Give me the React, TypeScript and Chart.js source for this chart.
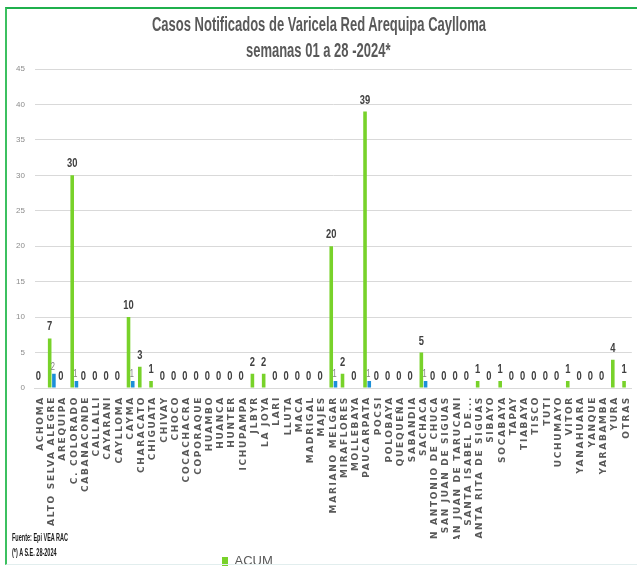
import React, { useEffect, useRef } from "react";
import { Chart, registerables } from "chart.js";

Chart.register(...registerables);

const categories: string[] = [
  "ACHOMA", "ALTO SELVA ALEGRE", "AREQUIPA", "C. COLORADO", "CABANACONDE", "CALLALLI",
  "CAYARANI", "CAYLLOMA", "CAYMA", "CHARACATO", "CHIGUATA", "CHIVAY", "CHOCO",
  "COCACHACRA", "COPORAQUE", "HUAMBO", "HUANCA", "HUNTER", "ICHUPAMPA", "JLBYR",
  "LA JOYA", "LARI", "LLUTA", "MACA", "MADRIGAL", "MAJES", "MARIANO MELGAR",
  "MIRAFLORES", "MOLLEBAYA", "PAUCARPATA", "POCSI", "POLOBAYA", "QUEQUEÑA",
  "SABANDIA", "SACHACA", "SAN ANTONIO DE CHUCA", "SAN JUAN DE SIGUAS",
  "SAN JUAN DE TARUCANI", "SANTA ISABEL DE...", "SANTA RITA DE SIGUAS", "SIBAYO",
  "SOCABAYA", "TAPAY", "TIABAYA", "TISCO", "TUTI", "UCHUMAYO", "VITOR", "YANAHUARA",
  "YANQUE", "YARABAMBA", "YURA", "OTRAS",
];

const acumValues: number[] = [
  0, 7, 0, 30, 0, 0, 0, 0, 10, 3, 1, 0, 0, 0, 0, 0, 0, 0, 0, 2, 2, 0, 0, 0, 0, 0, 20,
  2, 0, 39, 0, 0, 0, 0, 5, 0, 0, 0, 0, 1, 0, 1, 0, 0, 0, 0, 0, 1, 0, 0, 0, 4, 1,
];

const semanaValues: (number | null)[] = [
  null, 2, null, 1, null, null, null, null, 1, null, null, null, null, null, null, null,
  null, null, null, null, null, null, null, null, null, null, 1, null, null, 1, null,
  null, null, null, 1, null, null, null, null, null, null, null, null, null, null, null,
  null, null, null, null, null, null, null,
];

const yTicks: number[] = [0, 5, 10, 15, 20, 25, 30, 35, 40, 45];

const titleLines: string[] = [
  "Casos Notificados de Varicela Red Arequipa Caylloma",
  "semanas 01 a 28 -2024*",
];

const footnoteLines: string[] = ["Fuente: Epi VEA RAC", "(*) A S.E. 28-2024"];

const SANS = "'Liberation Sans', Arial, sans-serif";

const valueLabels = {
  id: "valueLabels",
  afterDatasetsDraw(chart: any) {
    const ctx = chart.ctx;
    chart.data.datasets.forEach((ds: any, di: number) => {
      const meta = chart.getDatasetMeta(di);
      if (meta.hidden) return;
      meta.data.forEach((el: any, i: number) => {
        const v = ds.data[i];
        if (v === null || v === undefined) return;
        ctx.save();
        ctx.textAlign = "center";
        ctx.textBaseline = "bottom";
        if (di === 0) {
          ctx.translate(el.x, el.y - 5);
          ctx.scale(0.72, 1);
          ctx.font = `bold 13px ${SANS}`;
          ctx.fillStyle = "#404040";
          ctx.fillText(String(v), 0, 0);
        } else {
          ctx.translate(el.x - 1, el.y - 2);
          ctx.scale(0.75, 1);
          ctx.font = `10px ${SANS}`;
          ctx.fillStyle = "#7f7f7f";
          ctx.fillText(String(v), 0, 0);
        }
        ctx.restore();
      });
    });
  },
};

const spacedXLabels = {
  id: "spacedXLabels",
  afterLayout(chart: any) {
    const sx = chart.scales.x;
    if (!sx || sx.__spaced) return;
    const orig = sx.drawLabels.bind(sx);
    sx.drawLabels = (area: any) => {
      const ctx = chart.ctx;
      ctx.save();
      (ctx as any).letterSpacing = "1.7px";
      orig(area);
      ctx.restore();
    };
    sx.__spaced = true;
  },
};

const legendShift = {
  id: "legendShift",
  afterLayout(chart: any) {
    const lg = chart.legend;
    if (!lg) return;
    const w = lg.right - lg.left;
    lg.left = 218;
    lg.right = 218 + w;
    lg.top += 12;
    lg.bottom += 12;
  },
};

export default function App() {
  const ref = useRef<HTMLCanvasElement | null>(null);

  useEffect(() => {
    if (!ref.current) return;
    const chart = new Chart(ref.current, {
      type: "bar",
      data: {
        labels: categories,
        datasets: [
          {
            label: "ACUM",
            data: acumValues,
            backgroundColor: "#78d22a",
            borderWidth: 0,
            barPercentage: 0.85,
            categoryPercentage: 0.75,
          },
          {
            label: "SE 28",
            data: semanaValues as any,
            backgroundColor: "#1c8fd8",
            borderWidth: 0,
            barPercentage: 0.85,
            categoryPercentage: 0.75,
          },
        ],
      },
      options: {
        responsive: false,
        animation: false,
        layout: { padding: { left: 6, right: 2, top: 69, bottom: 0 } },
        plugins: {
          title: { display: false },
          legend: {
            display: true,
            position: "bottom",
            align: "start",
            labels: {
              filter: (item: any) => item.text === "ACUM",
              boxWidth: 6,
              boxHeight: 9,
              padding: 4,
              color: "#595959",
              font: { family: SANS, size: 13 },
            },
          },
          tooltip: { enabled: false },
        },
        scales: {
          x: {
            offset: true,
            grid: { display: false },
            border: { display: true, color: "#d9d9d9" },
            ticks: {
              autoSkip: false,
              maxRotation: 90,
              minRotation: 90,
              padding: 0,
              color: "#595959",
              font: { family: "'DejaVu Sans', Verdana, sans-serif", size: 9, weight: "bold" },
            },
            afterFit(scale: any) {
              scale.height = 151;
            },
          },
          y: {
            min: 0,
            max: 45,
            afterBuildTicks(scale: any) {
              scale.ticks = yTicks.map((v) => ({ value: v }));
            },
            grid: { color: "#d9d9d9", drawTicks: false },
            border: { display: false },
            ticks: {
              padding: 10,
              color: "#8c8c8c",
              font: { family: SANS, size: 8 },
            },
          },
        },
      },
      plugins: [valueLabels, spacedXLabels, legendShift],
    });
    return () => chart.destroy();
  }, []);

  return (
    <div style={{ position: "absolute", left: 0, top: 0, width: 637, height: 566, overflow: "hidden", background: "#fff" }}>
      <canvas ref={ref} width={637} height={566} style={{ position: "absolute", left: 0, top: 0 }} />
      <div
        style={{
          position: "absolute",
          left: 0,
          top: 11,
          width: 637,
          textAlign: "center",
          fontFamily: SANS,
          fontWeight: "bold",
          fontSize: 20,
          lineHeight: "26px",
          color: "#595959",
        }}
      >
        {titleLines.map((t) => (
          <div key={t}>
            <span style={{ display: "inline-block", transform: "scaleX(0.65)", whiteSpace: "nowrap" }}>{t}</span>
          </div>
        ))}
      </div>
      <div
        style={{
          position: "absolute",
          left: 5,
          top: 7,
          width: 640,
          height: 555,
          borderTop: "2px solid #1fb04c",
          borderLeft: "2px solid #3cc060",
          borderBottom: "1px solid #e2eeee",
          pointerEvents: "none",
        }}
      />
      <div
        style={{
          position: "absolute",
          left: 12,
          top: 530,
          fontFamily: SANS,
          fontWeight: "bold",
          fontSize: 11,
          lineHeight: "15px",
          color: "#1a1a1a",
          whiteSpace: "nowrap",
        }}
      >
        {footnoteLines.map((t) => (
          <div key={t}>
            <span style={{ display: "inline-block", transform: "scaleX(0.5)", transformOrigin: "left center" }}>{t}</span>
          </div>
        ))}
      </div>
    </div>
  );
}
